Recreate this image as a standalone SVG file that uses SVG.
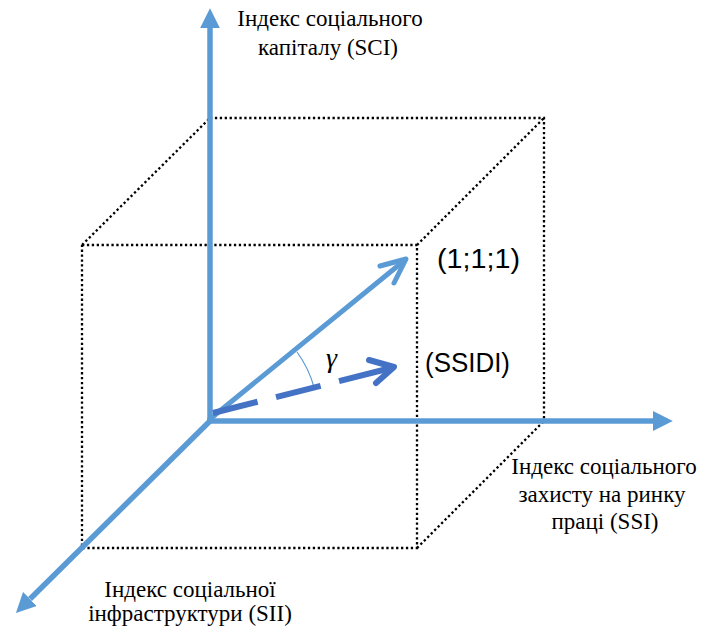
<svg xmlns="http://www.w3.org/2000/svg" width="704" height="633" viewBox="0 0 704 633">
<style>
.dot{fill:none;stroke:#000;stroke-width:2.3;stroke-dasharray:2.3 2.6}
.axis{fill:none;stroke:#5B9BD5;stroke-width:5.5}
.lbl{font-family:"Liberation Serif","Times New Roman",serif;font-size:23px;fill:#000;text-anchor:middle}
.sans{font-family:"Liberation Sans",Arial,sans-serif;font-size:28.5px;fill:#000}
</style>
<defs>
<marker id="tri" viewBox="0 0 10 10" refX="0" refY="5" markerWidth="3.6" markerHeight="3.6" markerUnits="strokeWidth" orient="auto">
<path d="M0,0 L10,5 L0,10 Z" fill="#5B9BD5"/>
</marker>
</defs>
<rect width="704" height="633" fill="#fff"/>
<g id="cube">
<path class="dot" d="M210,118 H544 V421"/>
<path class="dot" d="M82,245 H417 V548 H82 V245"/>
<path class="dot" d="M82,245 L210,118"/>
<path class="dot" d="M417,245 L544,118"/>
<path class="dot" d="M417,548 L544,421"/>
</g>
<g id="connectors">
<line class="axis" x1="210" y1="421" x2="210" y2="28" marker-end="url(#tri)"/>
<line class="axis" x1="207" y1="421" x2="653" y2="421" marker-end="url(#tri)"/>
<line class="axis" x1="211" y1="420" x2="30" y2="599" marker-end="url(#tri)"/>
<g fill="none" stroke="#5B9BD5" stroke-width="5" stroke-linecap="round">
<line x1="210" y1="419" x2="405" y2="260"/>
<polyline points="380,266 406,259 394,283" stroke-linejoin="round"/>
</g>
<path d="M297,352 A111,111 0 0 1 314,387" fill="none" stroke="#5B9BD5" stroke-width="1.2"/>
<g fill="none" stroke="#4472C4" stroke-width="6">
<line x1="213" y1="413" x2="393" y2="367.5" stroke-dasharray="46 19 46 19 80"/>
<polyline points="369,360 394,367 376,383" stroke-linecap="round" stroke-linejoin="round"/>
</g>
</g>
<g id="sci">
<text class="lbl" x="330" y="26">Індекс соціального</text>
<text class="lbl" x="328" y="55">капіталу (SCI)</text>
</g>
<g id="ssi">
<text class="lbl" x="604" y="474">Індекс соціального</text>
<text class="lbl" x="602" y="502">захисту на ринку</text>
<text class="lbl" x="605" y="529">праці (SSI)</text>
</g>
<g id="sii">
<text class="lbl" x="190" y="597">Індекс соціальної</text>
<text class="lbl" x="190" y="621">інфраструктури (SII)</text>
</g>
<g id="point">
<text class="sans" x="437" y="268" textLength="83" lengthAdjust="spacingAndGlyphs">(1;1;1)</text>
</g>
<g id="ssidi">
<text class="sans" x="425" y="372" textLength="85" lengthAdjust="spacingAndGlyphs">(SSIDI)</text>
</g>
<g id="gamma">
<text x="326" y="367" font-family="Liberation Serif,serif" font-style="italic" font-size="28" fill="#000">γ</text>
</g>
</svg>
